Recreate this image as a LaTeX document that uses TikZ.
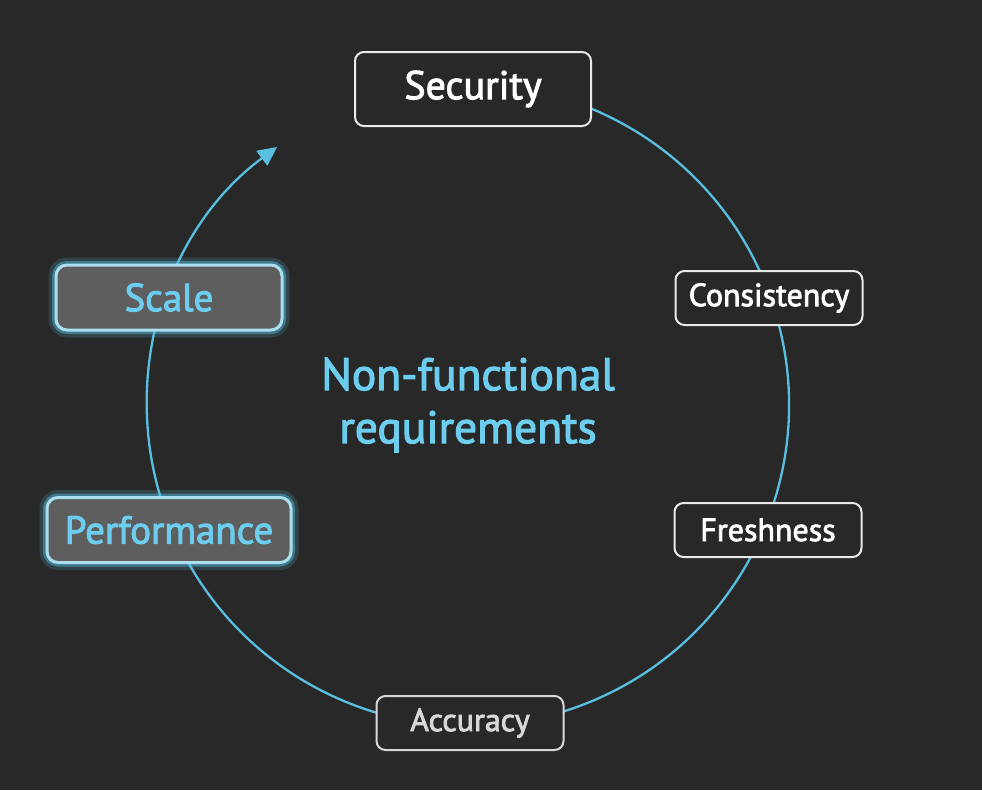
\documentclass[tikz,border=0pt]{standalone}
\usepackage{fontspec}
\setmainfont{PT Sans}[FakeBold=2.4]
\usetikzlibrary{arrows.meta, backgrounds}
\definecolor{BgGray}{HTML}{282828}
\definecolor{RingBlue}{HTML}{58BFE0}
\definecolor{TextBlue}{HTML}{6CCDEE}
\definecolor{BoxGray}{HTML}{5E5E5E}
\definecolor{DimWhite}{HTML}{D8D8D8}
\tikzset{
    plainbox/.style={draw=white!90!BgGray, line width=2pt, rounded corners=9pt,
        fill=BgGray, text=white, minimum width=187pt, minimum height=54pt,
        inner sep=0pt, font=\fontsize{32}{36}\selectfont},
    glowbox/.style={draw=RingBlue!50!white, line width=3pt, rounded corners=11pt,
        fill=BoxGray, text=TextBlue, minimum height=65pt, inner sep=0pt,
        font=\fontsize{39}{44}\selectfont,
        preaction={draw=RingBlue, line width=15pt, opacity=0.18},
        preaction={draw=RingBlue, line width=8pt, opacity=0.45}},
    ring/.style={RingBlue, line width=2.3pt},
}
\begin{document}
\begin{tikzpicture}[x=1pt, y=1pt]
\fill[BgGray] (0,0) rectangle (982,-790);
\useasboundingbox (0,0) rectangle (982,-790);

\coordinate (hub) at (468,-405);
\draw[ring, -{Triangle[length=19pt, width=18pt]}]
    ([shift={(110:321)}]hub) arc[start angle=110, end angle=-233.5, radius=321];

\node[plainbox, minimum width=236pt, minimum height=74pt,
      font=\fontsize{40}{46}\selectfont] (security) at (473,-89) {Security};
\node[plainbox] (consistency) at (769,-298) {Consistency};
\node[plainbox] (freshness) at (768,-530) {Freshness};
\node[plainbox, text=DimWhite, draw=DimWhite] (accuracy) at (470,-723) {Accuracy};
\node[glowbox, minimum width=226pt] (scale) at (169,-297.5) {Scale};
\node[glowbox, minimum width=244pt] (performance) at (169,-530) {Performance};

\node[text=TextBlue, align=center, font=\fontsize{45.5}{53}\selectfont]
    (nfr) at (hub) {Non-functional\\requirements};
\end{tikzpicture}
\end{document}
